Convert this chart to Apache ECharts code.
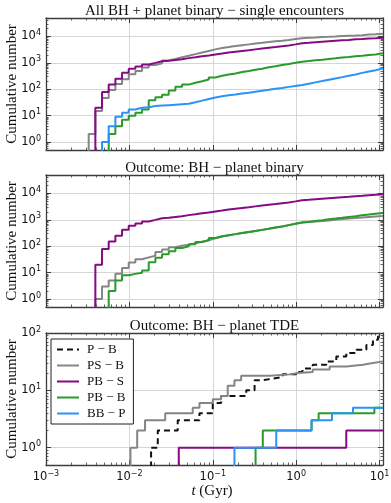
<!DOCTYPE html>
<html>
<head>
<meta charset="utf-8">
<script src="https://cdn.jsdelivr.net/npm/echarts@6/dist/echarts.min.js"></script>
<style>
html, body { margin: 0; padding: 0; background: #fff; }
#chart { width: 391px; height: 503px; }
</style>
</head>
<body>
<div id="chart"></div>
<script>
// histogram bin edges (Gyr), log spaced
const edges = [0.001076, 0.001294, 0.001556, 0.001871, 0.002249, 0.002704, 0.003251, 0.003908, 0.004699, 0.005649,
    0.006792, 0.008166, 0.009817, 0.01180, 0.01419, 0.01706, 0.02051, 0.02466, 0.02965, 0.03565,
    0.04285, 0.05152, 0.06194, 0.07447, 0.08954, 0.1076, 0.1294, 0.1556, 0.1871, 0.2249,
    0.2704, 0.3251, 0.3908, 0.4699, 0.5649, 0.6792, 0.8166, 0.9817, 1.180, 1.419,
    1.706, 2.051, 2.466, 2.965, 3.565, 4.285, 5.152, 6.194, 7.447, 8.954, 10.76]

// panel 1: all BH + planet binary - single encounters (cumulative count per bin)
const allPSB = [0, 0, 0, 0, 0, 0, 2, 15, 47, 93, 158, 240, 370, 490, 660, 830,
    970, 1230, 1410, 1620, 1860, 2140, 2450, 2820, 3240, 3630,
    3980, 4370, 4680, 5010, 5370, 5750, 6170, 6610, 6920, 7410,
    7940, 8510, 8910, 9120, 9550, 9770, 10000, 10470, 10720, 10960,
    11220, 11750, 12020, 12590]
const allPBS = [0, 0, 0, 0, 0, 0, 0, 20, 78, 150, 250, 420, 600, 720, 870, 1000,
    1150, 1200, 1290, 1380, 1510, 1620, 1780, 1910, 2090, 2240,
    2450, 2630, 2820, 3020, 3240, 3470, 3720, 3980, 4270, 4570,
    5010, 5500, 5750, 6030, 6310, 6610, 6920, 7240, 7410, 7760,
    7940, 8320, 8510, 8910]
const allPBB = [0, 0, 0, 0, 0, 0, 0, 0, 0, 2, 4, 7, 10, 13, 17, 38,
    50, 62, 90, 125, 150, 175, 200, 235, 280, 324,
    363, 398, 447, 490, 550, 603, 676, 741, 832, 912,
    1000, 1100, 1175, 1260, 1320, 1410, 1480, 1580, 1660, 1780,
    1860, 2000, 2090, 2290]
const allBBP = [0, 0, 0, 0, 0, 0, 0, 0, 1, 4, 9, 13, 17, 20, 21, 23,
    24, 25, 26, 27, 28, 32, 37, 43, 49, 54,
    59, 63, 69, 74, 81, 87, 95, 105, 112, 123,
    132, 145, 162, 182, 204, 229, 257, 288, 324, 363,
    417, 468, 525, 617]

// panel 2: outcome BH - planet binary
const binPSB = [0, 0, 0, 0, 0, 0, 0, 1, 3, 5, 9, 15, 24, 32, 38, 44,
    60, 75, 92, 105, 115, 129, 148, 170, 200, 234,
    263, 288, 316, 347, 380, 417, 457, 513, 562, 631,
    708, 794, 832, 871, 912, 955, 1000, 1070, 1120, 1175,
    1230, 1290, 1350, 1410]
const binPBS = [0, 0, 0, 0, 0, 0, 0, 20, 78, 150, 250, 420, 600, 720, 870, 1000,
    1150, 1200, 1290, 1380, 1510, 1620, 1780, 1910, 2090, 2240,
    2450, 2630, 2820, 3020, 3240, 3470, 3720, 3980, 4270, 4570,
    5010, 5500, 5750, 6030, 6310, 6610, 6920, 7240, 7500, 7900,
    8200, 8600, 8900, 9300]
const binPBB = [0, 0, 0, 0, 0, 0, 0, 0, 0, 2, 5, 8, 9, 10, 12, 25,
    37, 50, 65, 85, 100, 120, 145, 170, 205, 240,
    263, 288, 316, 347, 380, 417, 457, 513, 562, 631,
    708, 794, 851, 912, 977, 1050, 1120, 1200, 1290, 1380,
    1480, 1580, 1700, 1820]

// panel 3: outcome BH - planet TDE (time of each step, count after it)
const tdePB_t = [0.0182, 0.0219, 0.0380, 0.0692, 0.1, 0.126, 0.252, 0.317, 0.398, 0.521, 0.687, 1.0, 1.19, 1.58, 2.30, 3.03, 3.99, 5.26, 6.95, 8.33, 9.57]
const tdePB_n = [1, 2, 3, 4, 6, 8, 10, 15, 16, 17, 19, 21, 24, 28, 32, 39, 45, 51, 62, 76, 87]
const tdePSB_t = [0.0103, 0.0124, 0.0154, 0.0269, 0.0575, 0.0692, 0.1, 0.126, 0.151, 0.182, 0.219, 0.480, 0.834, 1.05, 1.58, 2.52, 3.99, 6.32, 8.33]
const tdePSB_n = [1, 2, 3, 4, 5, 6, 7, 8, 12, 15, 18, 19, 20, 21, 23, 26, 28, 30, 32]
const tdePBS_t = [0.0391, 3.99]
const tdePBS_n = [1, 2]
const tdePBB_t = [0.326, 0.398, 1.53, 1.86, 8.67]
const tdePBB_n = [1, 2, 3, 4, 5]
const tdeBBP_t = [0.182, 0.577, 1.53, 2.69, 4.80]
const tdeBBP_n = [1, 2, 3, 4, 5]

const seriesNames = ['P − B', 'PS − B', 'PB − S', 'PB − B', 'BB − P']
const titles = ['All BH + planet binary − single encounters', 'Outcome: BH − planet binary', 'Outcome: BH − planet TDE']

const xMajor = [0.001, 0.01, 0.1, 1, 10]
const xMinor = [0.002, 0.003, 0.004, 0.005, 0.006, 0.007, 0.008, 0.009,
    0.02, 0.03, 0.04, 0.05, 0.06, 0.07, 0.08, 0.09,
    0.2, 0.3, 0.4, 0.5, 0.6, 0.7, 0.8, 0.9,
    2, 3, 4, 5, 6, 7, 8, 9]
const yMajorTop = [1, 10, 100, 1000, 10000]
const yMinorTop = [0.5, 0.6, 0.7, 0.8, 0.9, 2, 3, 4, 5, 6, 7, 8, 9,
    20, 30, 40, 50, 60, 70, 80, 90, 200, 300, 400, 500, 600, 700, 800, 900,
    2000, 3000, 4000, 5000, 6000, 7000, 8000, 9000, 20000, 30000, 40000, 50000]
const yMajorTde = [1, 10, 100]
const yMinorTde = [0.5, 0.6, 0.7, 0.8, 0.9, 2, 3, 4, 5, 6, 7, 8, 9,
    20, 30, 40, 50, 60, 70, 80, 90]

const X_MIN = 0.001
const X_MAX = 11
const FLOOR = 0.01
const FRAME = '#3c3c3c'
const GRIDC = '#d6d6d6'
const COL = { pb: '#111111', psb: '#858585', pbs: '#850a85', pbb: '#2a9a2a', bbp: '#2a93f5' }
const SERIF = '"Liberation Serif", "DejaVu Serif", serif'
const SANS = '"DejaVu Sans", sans-serif'

const grids = [
    { left: 46, top: 18, width: 337, height: 132, outerBoundsMode: 'none' },
    { left: 46, top: 175, width: 337, height: 132, outerBoundsMode: 'none' },
    { left: 46, top: 333, width: 337, height: 132, outerBoundsMode: 'none' }
]

const powLabel = (v) => {
    const e = Math.round(Math.log10(v))
    return '{b|10}{e|' + (e < 0 ? '−' + (-e) : e) + '}'
}
const labelRich = {
    b: { fontFamily: SANS, fontSize: 11.5, color: '#111' },
    e: { fontFamily: SANS, fontSize: 8, color: '#111', padding: [0, 0, 7, 0] }
}

function axisSet(dim, g, major, minor, min, max, labels) {
    const pos = dim === 'x' ? ['bottom', 'top'] : ['left', 'right']
    const base = {
        type: 'log', logBase: 10, gridIndex: g, min, max,
        axisLine: { show: false, onZero: false },
        splitLine: { show: false },
        axisLabel: { show: false },
        silent: true
    }
    const majorTick = { show: true, inside: true, length: 5, lineStyle: { color: FRAME, width: 1 }, customValues: major }
    const minorTick = { show: true, inside: true, length: 2.5, lineStyle: { color: FRAME, width: 0.8 }, customValues: minor }
    return [
        {
            ...base, position: pos[0],
            axisLine: { show: true, onZero: false, lineStyle: { color: FRAME, width: 1.3 } },
            splitLine: { show: true, lineStyle: { color: GRIDC, width: 1 } },
            axisTick: majorTick,
            axisLabel: labels ? {
                show: true, customValues: major, formatter: powLabel, rich: labelRich, margin: 5
            } : { show: false }
        },
        { ...base, position: pos[0], axisTick: minorTick },
        { ...base, position: pos[1], axisLine: { show: true, onZero: false, lineStyle: { color: FRAME, width: 1.3 } }, axisTick: majorTick },
        { ...base, position: pos[1], axisTick: minorTick }
    ]
}

const xAxes = [
    ...axisSet('x', 0, xMajor, xMinor, X_MIN, X_MAX, false),
    ...axisSet('x', 1, xMajor, xMinor, X_MIN, X_MAX, false),
    ...axisSet('x', 2, xMajor, xMinor, X_MIN, X_MAX, true)
]
const yAxes = [
    ...axisSet('y', 0, yMajorTop, yMinorTop, 0.5, 50000, true),
    ...axisSet('y', 1, yMajorTop, yMinorTop, 0.5, 50000, true),
    ...axisSet('y', 2, yMajorTde, yMinorTde, 0.5, 100, true)
]

function binPoints(counts) {
    const pts = counts.map((n, i) => [edges[i], n > 0 ? n : FLOOR])
    pts.push([X_MAX, counts[counts.length - 1]])
    return pts
}
function eventPoints(times, counts) {
    const pts = [[X_MIN, FLOOR]]
    times.forEach((t, i) => pts.push([t, counts[i]]))
    pts.push([X_MAX, counts[counts.length - 1]])
    return pts
}
function line(name, color, data, g, dashed) {
    return {
        name, type: 'line', step: 'end', data,
        xAxisIndex: 4 * g, yAxisIndex: 4 * g,
        symbol: 'none', showSymbol: false, clip: true, silent: true,
        lineStyle: { color, width: 2, type: dashed ? [6, 4] : 'solid' },
        itemStyle: { color },
        emphasis: { disabled: true }
    }
}

const series = [
    line('PS − B', COL.psb, binPoints(allPSB), 0),
    line('PB − S', COL.pbs, binPoints(allPBS), 0),
    line('PB − B', COL.pbb, binPoints(allPBB), 0),
    line('BB − P', COL.bbp, binPoints(allBBP), 0),

    line('PS − B', COL.psb, binPoints(binPSB), 1),
    line('PB − S', COL.pbs, binPoints(binPBS), 1),
    line('PB − B', COL.pbb, binPoints(binPBB), 1),

    line('P − B', COL.pb, eventPoints(tdePB_t, tdePB_n), 2, true),
    line('PS − B', COL.psb, eventPoints(tdePSB_t, tdePSB_n), 2),
    line('PB − S', COL.pbs, eventPoints(tdePBS_t, tdePBS_n), 2),
    line('PB − B', COL.pbb, eventPoints(tdePBB_t, tdePBB_n), 2),
    line('BB − P', COL.bbp, eventPoints(tdeBBP_t, tdeBBP_n), 2)
]

const graphics = []
grids.forEach((g, i) => {
    graphics.push({
        type: 'text', x: g.left + g.width / 2, y: g.top - 7, silent: true,
        style: { text: titles[i], font: '15px ' + SERIF, fill: '#111', align: 'center', verticalAlign: 'middle' }
    })
    graphics.push({
        type: 'text', x: 12, y: g.top + g.height / 2, rotation: Math.PI / 2, silent: true,
        style: { text: 'Cumulative number', font: '15px ' + SERIF, fill: '#111', align: 'center', verticalAlign: 'middle' }
    })
})
graphics.push({
    type: 'text', x: 212, y: 491, silent: true,
    style: {
        text: '{i|t} (Gyr)', font: '15px ' + SERIF, fill: '#111', align: 'center', verticalAlign: 'middle',
        rich: { i: { fontStyle: 'italic', fontFamily: SERIF, fontSize: 15, fill: '#111' } }
    }
})

const chart = echarts.init(document.getElementById('chart'), null, { renderer: 'canvas' })
chart.setOption({
    animation: false,
    backgroundColor: '#fff',
    grid: grids,
    xAxis: xAxes,
    yAxis: yAxes,
    series,
    graphic: graphics,
    legend: {
        data: seriesNames,
        orient: 'vertical',
        left: 51, top: 339,
        itemWidth: 22, itemHeight: 12, itemGap: 3,
        padding: [4, 8, 4, 5],
        backgroundColor: '#fff',
        borderColor: '#222', borderWidth: 1, borderRadius: 0,
        selectedMode: false,
        itemStyle: { opacity: 0 },
        textStyle: { fontFamily: SERIF, fontSize: 13, color: '#111', padding: [0, 0, 0, 3] }
    }
})
</script>
</body>
</html>
